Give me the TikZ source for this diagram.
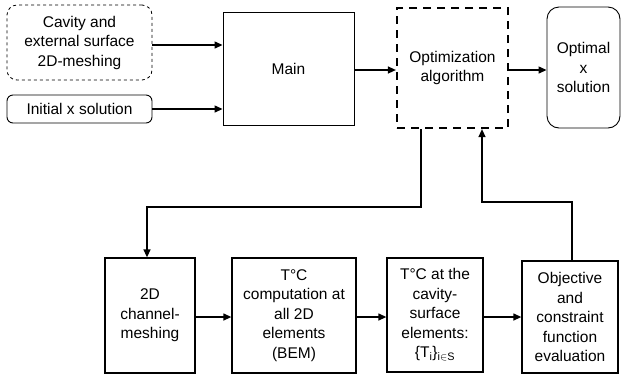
\documentclass[tikz,border=0pt]{standalone}
\usepackage{fontspec}
\setmainfont{Liberation Sans}
\usetikzlibrary{arrows.meta}
\newcommand\myfs{\fontsize{15.5}{19.5}\selectfont}
\tikzset{
  box/.style={draw, line width=1.3pt, align=center, inner sep=0pt, font=\myfs},
  arr/.style={-{Triangle[length=8pt,width=7pt]}, line width=1.3pt},
}
\begin{document}
\begin{tikzpicture}[x=1pt,y=-1pt]
\useasboundingbox (0,0) rectangle (624,376);
\node[box, line width=0.8pt, dashed, rounded corners=10pt, minimum width=145pt, minimum height=75pt] (cav) at (79.5,42.5) {Cavity and\\external surface\\2D-meshing};
\node[box, line width=0.9pt, rounded corners=6pt, minimum width=145pt, minimum height=28pt] (init) at (79.5,109) {Initial x solution};
\node[box, line width=0.9pt, minimum width=131pt, minimum height=113pt] (main) at (288.5,68.5) {Main};
\node[box, line width=2.2pt, dash pattern=on 8pt off 6pt, minimum width=111pt, minimum height=120pt] (opt) at (452.5,68) {Optimization\\algorithm};
\node[box, line width=0.9pt, rounded corners=12pt, minimum width=73pt, minimum height=121pt] (optimal) at (583.5,67.5) {Optimal\\x\\solution};
\node[box, minimum width=90pt, minimum height=115pt] (b1) at (150,315.5) {2D\\channel-\\meshing};
\node[box, minimum width=124pt, minimum height=115pt] (b2) at (294,315.5) {T°C\\computation at\\all 2D\\elements\\(BEM)};
\node[box, minimum width=96pt, minimum height=114pt] (b3) at (435,315) {T°C at the\\cavity-\\surface\\elements:\\\{T$_{\mathrm{i}}$\}$_{\mathrm{i}\in \mathrm{S}}$};
\node[box, minimum width=96pt, minimum height=112pt] (b4) at (570,317) {Objective\\and\\constraint\\function\\evaluation};
\draw[arr] ([yshift=-2.5pt]cav.east) -- ([yshift=-2.5pt]cav.east -| main.west);
\draw[arr] (init.east) -- (init.east -| main.west);
\draw[arr] (main.east |- 0,70) -- (opt.west |- 0,70);
\draw[arr] (opt.east |- 0,70) -- (optimal.west |- 0,70);
\draw[arr] (b1.east |- 0,317) -- (b2.west |- 0,317);
\draw[arr] (b2.east |- 0,317) -- (b3.west |- 0,317);
\draw[arr] (b3.east |- 0,317) -- (b4.west |- 0,317);
\coordinate (k1) at (421,207);
\coordinate (k2) at (482,202);
\draw[arr] (opt.south -| k1) -- (k1) -| ([xshift=-3pt]b1.north);
\draw[arr] ([xshift=2pt]b4.north) |- (k2) -- (opt.south -| k2);
\end{tikzpicture}
\end{document}
